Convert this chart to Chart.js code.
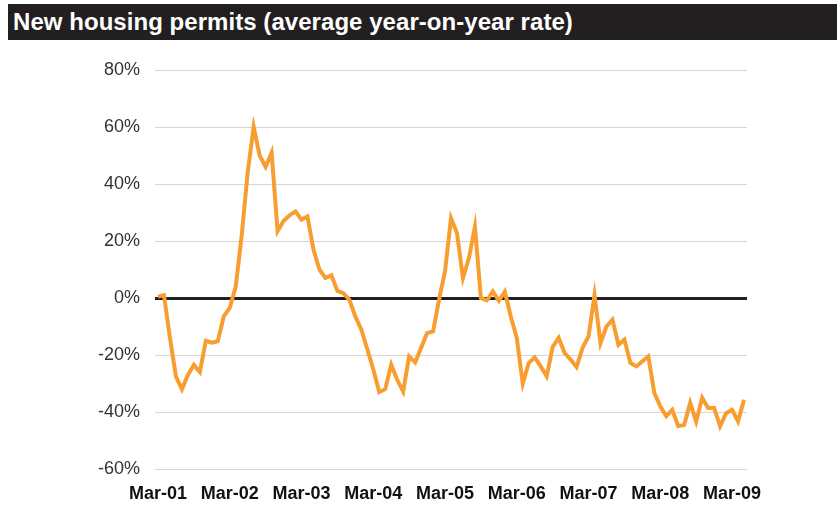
<!DOCTYPE html>
<html>
<head>
<meta charset="utf-8">
<script src="https://cdn.jsdelivr.net/npm/chart.js@4.4.1/dist/chart.umd.min.js"></script>
<style>
  html, body { margin: 0; padding: 0; background: #fff; }
  #wrap { position: relative; width: 837px; height: 505px; overflow: hidden; }
  #title {
    position: absolute; left: 8px; top: 4px; right: 0; height: 36px;
    background: #231f20; color: #fff;
    font: bold 24px "Liberation Sans", Arial, sans-serif;
    line-height: 36px; padding-left: 5px; box-sizing: border-box;
    letter-spacing: 0.05px;
  }
  #chart1 { position: absolute; left: 0; top: 0; }
</style>
</head>
<body>
<div id="wrap">
  <canvas id="chart1" width="837" height="505"></canvas>
  <div id="title">New housing permits (average year-on-year rate)</div>
</div>
<script>
// monthly series, Mar-01 .. May-09
const months = ['Jan','Feb','Mar','Apr','May','Jun','Jul','Aug','Sep','Oct','Nov','Dec'];
const years = ['01','02','03','04','05','06','07','08','09'];
const permitsYoY = [
  0.5, 1, -14, -27.5, -32, -27, -23.5, -26, -15, -15.7,
  -15.2, -6.4, -3.5, 4, 22, 44, 60, 50, 46, 51,
  23.5, 27, 29, 30.4, 27.5, 28.6, 17, 10, 7, 8,
  2.5, 1.7, -0.6, -6.5, -11, -18, -25, -33, -32, -23.4,
  -28.7, -32.8, -20.5, -22.6, -17.5, -12.3, -11.7, -0.6, 9.3, 28,
  22.8, 7, 14, 25, 0, -0.8, 2.3, -1, 2.2, -6.5,
  -14, -30, -22.8, -20.8, -24, -27.5, -17.2, -14, -19.3, -21.6,
  -24.2, -17.5, -13.5, 1, -15.8, -10, -7.6, -16.4, -14.6, -22.8,
  -24, -22.2, -20.5, -33.3, -38, -41.5, -39.2, -45, -44.5, -36.8,
  -43.3, -35, -38.6, -38.6, -45, -40.4, -39.2, -43.3, -35.7
];
const yTicks = [-60, -40, -20, 0, 20, 40, 60, 80];

// category labels: one per month starting at Mar-01
const labels = [];
for (let i = 0; i < permitsYoY.length; i++) {
  const m = (2 + i) % 12;
  const y = years[Math.floor((2 + i) / 12)];
  labels.push(months[m] + '-' + y);
}

const ctx = document.getElementById('chart1').getContext('2d');
const chart = new Chart(ctx, {
  type: 'line',
  data: {
    labels: labels,
    datasets: [{
      data: permitsYoY,
      borderColor: '#f89e31',
      borderWidth: 4,
      pointRadius: 0,
      tension: 0,
      borderJoinStyle: 'miter',
      fill: false
    }]
  },
  options: {
    responsive: false,
    animation: false,
    layout: { padding: { top: 70, right: 90, bottom: 0, left: 0 } },
    plugins: { legend: { display: false }, tooltip: { enabled: false } },
    scales: {
      x: {
        type: 'category',
        offset: true,
        grid: { display: false, drawTicks: false },
        border: { display: false },
        ticks: {
          autoSkip: false,
          maxRotation: 0,
          padding: 14,
          color: '#111',
          font: { family: 'Liberation Sans', size: 18, weight: 'bold' },
          callback: function(value, index) {
            return index % 12 === 0 ? labels[index] : null;
          }
        },
        afterFit: function(scale) { scale.height = 36; }
      },
      y: {
        min: -60,
        max: 80,
        afterBuildTicks: function(scale) {
          scale.ticks = yTicks.map(v => ({ value: v }));
        },
        grid: {
          drawTicks: false,
          color: c => c.tick && c.tick.value === 0 ? '#231f20' : '#d6d6d6',
          lineWidth: c => c.tick && c.tick.value === 0 ? 3 : 1
        },
        border: { display: false },
        ticks: {
          padding: 15,
          color: '#333',
          font: { family: 'Liberation Sans', size: 18 },
          callback: function(value) { return value + '%'; }
        },
        afterFit: function(scale) { scale.width = 155; }
      }
    }
  }
});
</script>
</body>
</html>
